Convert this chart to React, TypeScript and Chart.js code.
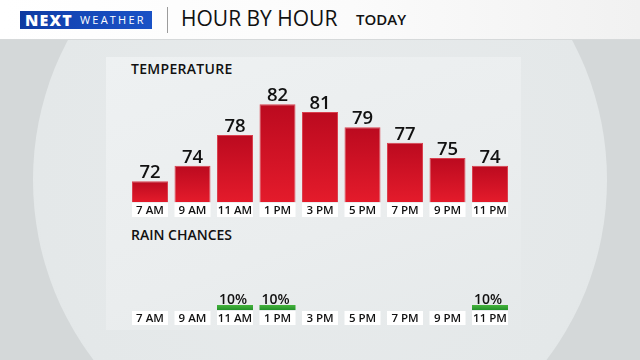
import React, { useEffect, useRef } from "react";
import { Chart, registerables } from "chart.js";

Chart.register(...registerables);

const hours = ["7 AM", "9 AM", "11 AM", "1 PM", "3 PM", "5 PM", "7 PM", "9 PM", "11 PM"];
const temperatures = [72, 74, 78, 82, 81, 79, 77, 75, 74];
const rainChances = [0, 0, 10, 10, 0, 0, 0, 0, 10];

const FONT = "'Open Sans', 'DejaVu Sans', sans-serif";

const tickBoxPlugin = {
  id: "tickBoxes",
  beforeDraw(chart: any, _args: any, opts: any) {
    const { ctx, chartArea } = chart;
    const xScale = chart.scales.x;
    const meta = chart.getDatasetMeta(0);
    if (!xScale || !meta) return;
    ctx.save();
    ctx.fillStyle = opts.color || "#ffffff";
    xScale.ticks.forEach((_t: any, i: number) => {
      const cx = xScale.getPixelForTick(i);
      const el: any = meta.data[i];
      const w = el ? el.width : 36;
      ctx.fillRect(cx - w / 2, chartArea.bottom + (opts.offset || 1), w, opts.height || 14);
    });
    ctx.restore();
  },
};

const valueLabelPlugin = {
  id: "valueLabels",
  afterDatasetsDraw(chart: any, _args: any, opts: any) {
    const { ctx } = chart;
    const meta = chart.getDatasetMeta(0);
    const data = chart.data.datasets[0].data as number[];
    ctx.save();
    ctx.font = `${opts.weight || 500} ${opts.size || 18}px ${FONT}`;
    ctx.fillStyle = opts.color || "#111";
    ctx.textAlign = "center";
    ctx.textBaseline = "alphabetic";
    meta.data.forEach((el: any, i: number) => {
      const v = data[i];
      if (!v) return;
      ctx.fillText(`${v}${opts.suffix || ""}`, el.x + (opts.dx || 0), el.y - (opts.gap || 3));
    });
    ctx.restore();
  },
};

function verticalGradient(c: any, topColor: string, bottomColor: string) {
  const chart = c.chart;
  const y = chart.scales?.y;
  const area = chart.chartArea;
  if (!y || !area || c.type !== "data") return bottomColor;
  const top = y.getPixelForValue(c.raw as number);
  const bottom = area.bottom;
  if (!isFinite(top) || Math.abs(bottom - top) < 1) return bottomColor;
  const g = chart.ctx.createLinearGradient(0, top, 0, bottom);
  g.addColorStop(0, topColor);
  g.addColorStop(1, bottomColor);
  return g;
}

function makeXAxis() {
  return {
    grid: { display: false, drawTicks: false },
    border: { display: false },
    ticks: {
      font: { family: FONT, size: 11.5, weight: 600 },
      color: "#111111",
      padding: 1.5,
      maxRotation: 0,
      autoSkip: false,
    },
    afterFit: (s: any) => {
      s.height = 16;
    },
  };
}

function TempChart() {
  const ref = useRef<HTMLCanvasElement>(null);
  useEffect(() => {
    if (!ref.current) return;
    const chart = new Chart(ref.current, {
      type: "bar",
      data: {
        labels: hours,
        datasets: [
          {
            data: temperatures,
            backgroundColor: (c: any) => verticalGradient(c, "#bb0a1f", "#e41b2b"),
            borderColor: "#d9404e",
            borderWidth: 1,
            barPercentage: 0.847,
            categoryPercentage: 1,
          },
        ],
      },
      options: {
        responsive: false,
        animation: false,
        layout: { padding: { left: 128.75, right: 128.75, top: 88.8, bottom: 142 } },
        scales: {
          x: makeXAxis() as any,
          y: { display: false, min: 69.3, max: 84 },
        },
        plugins: {
          legend: { display: false },
          tooltip: { enabled: false },
          title: { display: false },
          tickBoxes: { offset: 1, height: 14, color: "#ffffff" },
          valueLabels: { size: 18.5, weight: 600, gap: 3, color: "#111111" },
        } as any,
      },
      plugins: [tickBoxPlugin, valueLabelPlugin],
    });
    return () => chart.destroy();
  }, []);
  return (
    <canvas
      ref={ref}
      width={640}
      height={360}
      style={{ position: "absolute", left: 0, top: 0, width: 640, height: 360 }}
    />
  );
}

function RainChart() {
  const ref = useRef<HTMLCanvasElement>(null);
  useEffect(() => {
    if (!ref.current) return;
    const chart = new Chart(ref.current, {
      type: "bar",
      data: {
        labels: hours,
        datasets: [
          {
            data: rainChances,
            backgroundColor: (c: any) => verticalGradient(c, "#45b33c", "#24922a"),
            borderWidth: 0,
            barPercentage: 0.847,
            categoryPercentage: 1,
          },
        ],
      },
      options: {
        responsive: false,
        animation: false,
        layout: { padding: { left: 128.75, right: 128.75, top: 260, bottom: 34 } },
        scales: {
          x: makeXAxis() as any,
          y: { display: false, min: 0, max: 100 },
        },
        plugins: {
          legend: { display: false },
          tooltip: { enabled: false },
          title: { display: false },
          tickBoxes: { offset: 1, height: 14, color: "#ffffff" },
          valueLabels: { size: 14, weight: 600, gap: 1, color: "#111111", suffix: "%", dx: -2 },
        } as any,
      },
      plugins: [tickBoxPlugin, valueLabelPlugin],
    });
    return () => chart.destroy();
  }, []);
  return (
    <canvas
      ref={ref}
      width={640}
      height={360}
      style={{ position: "absolute", left: 0, top: 0, width: 640, height: 360 }}
    />
  );
}

export default function App() {
  return (
    <div
      style={{
        position: "fixed",
        left: 0,
        top: 0,
        width: 640,
        height: 360,
        overflow: "hidden",
        background: "#d4d8d9",
        fontFamily: FONT,
      }}
    >
      {/* big sphere */}
      <div
        style={{
          position: "absolute",
          left: 33,
          top: -113,
          width: 574,
          height: 586,
          borderRadius: "50%",
          background:
            "radial-gradient(ellipse at 50% 48%, #e8ebec 0%, #e4e8e9 70%, #dde2e3 92%, #e1e6e7 97%, #eaeff1 100%)",
        }}
      />
      {/* header */}
      <div
        style={{
          position: "absolute",
          left: 0,
          top: 0,
          width: 640,
          height: 39,
          background: "linear-gradient(to right, #ffffff 0%, #fbfbfb 55%, #f1f1f1 100%)",
          borderBottom: "1px solid #d6d9da",
        }}
      />
      {/* logo */}
      <div
        style={{
          position: "absolute",
          left: 20,
          top: 11,
          width: 132,
          height: 18,
          background: "linear-gradient(100deg, #0d3a9f 0%, #1446b6 38%, #1a52c6 100%)",
        }}
      />
      <div
        style={{
          position: "absolute",
          left: 25,
          top: 9.5,
          color: "#ffffff",
          fontWeight: 800,
          fontSize: 16,
          lineHeight: "20px",
          letterSpacing: 1.2,
        }}
      >
        NEXT
      </div>
      <div
        style={{
          position: "absolute",
          left: 80,
          top: 13,
          color: "#ffffff",
          fontWeight: 500,
          fontSize: 11,
          lineHeight: "14px",
          letterSpacing: 2.2,
        }}
      >
        WEATHER
      </div>
      {/* separator */}
      <div style={{ position: "absolute", left: 167, top: 7, width: 1, height: 26, background: "#9c9c9c" }} />
      <div
        style={{
          position: "absolute",
          left: 181,
          top: 8,
          fontSize: 21,
          lineHeight: "21px",
          color: "#111",
          fontWeight: 400,
          whiteSpace: "nowrap",
        }}
      >
        HOUR BY HOUR
      </div>
      <div
        style={{
          position: "absolute",
          left: 356,
          top: 11.5,
          fontSize: 15,
          lineHeight: "15px",
          color: "#111",
          fontWeight: 600,
        }}
      >
        TODAY
      </div>
      {/* panel */}
      <div
        style={{
          position: "absolute",
          left: 106,
          top: 57,
          width: 415,
          height: 273,
          background: "linear-gradient(160deg, #eef1f2 0%, #eaedee 60%, #e5e9ea 100%)",
        }}
      />
      <div
        style={{
          position: "absolute",
          left: 131,
          top: 61.6,
          fontSize: 14,
          lineHeight: "14px",
          fontWeight: 600,
          letterSpacing: 0.3,
          color: "#111",
          whiteSpace: "nowrap",
        }}
      >
        TEMPERATURE
      </div>
      <div
        style={{
          position: "absolute",
          left: 131,
          top: 227.6,
          fontSize: 14,
          lineHeight: "14px",
          fontWeight: 600,
          letterSpacing: 0,
          color: "#111",
          whiteSpace: "nowrap",
        }}
      >
        RAIN CHANCES
      </div>
      <TempChart />
      <RainChart />
    </div>
  );
}
